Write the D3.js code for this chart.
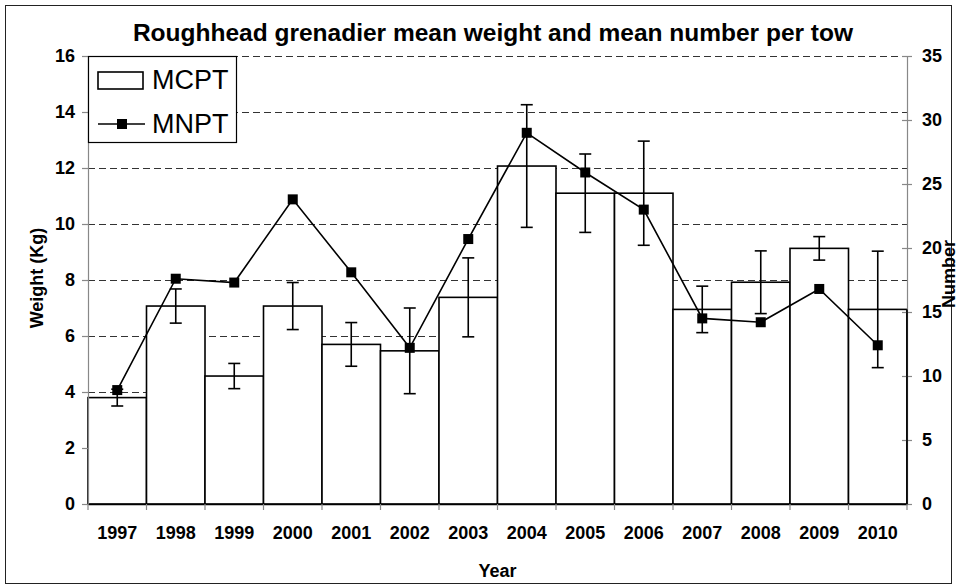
<!DOCTYPE html>
<html>
<head>
<meta charset="utf-8">
<script src="https://cdn.jsdelivr.net/npm/d3@7"></script>
<style>
  body { margin: 0; background: #fff; }
  text { font-family: "Liberation Sans", Arial, sans-serif; }
</style>
</head>
<body>
<div id="chart"></div>
<script>
// chart data
var years = ['1997','1998','1999','2000','2001','2002','2003','2004','2005','2006','2007','2008','2009','2010'];
var weight = [3.80, 7.07, 4.57, 7.07, 5.70, 5.47, 7.38, 12.07, 11.10, 11.10, 6.95, 7.92, 9.13, 6.95];
var weightErr = [0.30, 0.61, 0.45, 0.84, 0.78, 1.53, 1.41, 2.19, 1.40, 1.86, 0.83, 1.12, 0.42, 2.08];
var number = [8.9, 17.6, 17.3, 23.8, 18.1, 12.2, 20.7, 29.0, 25.9, 23.0, 14.5, 14.2, 16.8, 12.4];
var weightTicks = [0, 2, 4, 6, 8, 10, 12, 14, 16];
var numberTicks = [0, 5, 10, 15, 20, 25, 30, 35];
var gridTicks = [4, 6, 8, 10, 12, 14, 16];

var W = 958, H = 588;
var plot = { left: 88, right: 907, top: 56, bottom: 504 };

var svg = d3.select('#chart').append('svg')
    .attr('width', W)
    .attr('height', H);

// outer frame
svg.append('rect')
    .attr('x', 5.5).attr('y', 5.5)
    .attr('width', 946).attr('height', 578)
    .style('fill', 'none')
    .style('stroke', '#222')
    .style('stroke-width', 1);

var x = d3.scaleBand()
    .domain(years)
    .range([plot.left, plot.right])
    .padding(0);

var yW = d3.scaleLinear()
    .domain([0, 16])
    .range([plot.bottom, plot.top]);

var yN = d3.scaleLinear()
    .domain([0, 35])
    .range([plot.bottom, plot.top]);

// dashed gridlines
svg.append('g').selectAll('line').data(gridTicks)
  .enter().append('line')
    .attr('x1', plot.left).attr('x2', plot.right)
    .attr('y1', function(d) { return yW(d) + 0.5; })
    .attr('y2', function(d) { return yW(d) + 0.5; })
    .style('stroke', '#333')
    .style('stroke-width', 1)
    .style('stroke-dasharray', '7,4');

// bars
svg.append('g').selectAll('rect').data(weight)
  .enter().append('rect')
    .attr('x', function(d, i) { return x(years[i]); })
    .attr('y', function(d) { return yW(d); })
    .attr('width', x.bandwidth())
    .attr('height', function(d) { return yW(0) - yW(d); })
    .style('fill', '#fff')
    .style('stroke', '#000')
    .style('stroke-width', 1.6);

// error bars on weight
var errG = svg.append('g');
weight.forEach(function(d, i) {
  var cx = x(years[i]) + x.bandwidth() / 2;
  var hi = yW(d + weightErr[i]), lo = yW(d - weightErr[i]);
  errG.append('line')
      .attr('x1', cx).attr('x2', cx).attr('y1', hi).attr('y2', lo);
  errG.append('line')
      .attr('x1', cx - 6).attr('x2', cx + 6).attr('y1', hi).attr('y2', hi);
  errG.append('line')
      .attr('x1', cx - 6).attr('x2', cx + 6).attr('y1', lo).attr('y2', lo);
});
errG.selectAll('line')
    .style('stroke', '#000')
    .style('stroke-width', 1.6);

// number line
var line = d3.line()
    .x(function(d, i) { return x(years[i]) + x.bandwidth() / 2; })
    .y(function(d) { return yN(d); });

svg.append('path')
    .datum(number)
    .attr('d', line)
    .style('fill', 'none')
    .style('stroke', '#000')
    .style('stroke-width', 1.6);

svg.append('g').selectAll('rect').data(number)
  .enter().append('rect')
    .attr('x', function(d, i) { return x(years[i]) + x.bandwidth() / 2 - 5; })
    .attr('y', function(d) { return yN(d) - 5; })
    .attr('width', 10)
    .attr('height', 10)
    .style('fill', '#000');

// left axis
var leftAxis = svg.append('g')
    .attr('transform', 'translate(' + plot.left + ',0)')
    .call(d3.axisLeft(yW).tickValues(weightTicks).tickSize(6).tickPadding(7).tickSizeOuter(0));

// right axis
var rightAxis = svg.append('g')
    .attr('transform', 'translate(' + plot.right + ',0)')
    .call(d3.axisRight(yN).tickValues(numberTicks).tickSize(5).tickPadding(10).tickSizeOuter(0));
rightAxis.selectAll('.tick line').attr('x1', -5);

// bottom axis
var bottomAxis = svg.append('g')
    .attr('transform', 'translate(0,' + plot.bottom + ')')
    .call(d3.axisBottom(x).tickSize(0).tickPadding(22).tickSizeOuter(0));

var bounds = years.map(function(d) { return x(d); }).concat([plot.right]);
bottomAxis.selectAll('.bound').data(bounds)
  .enter().append('line')
    .attr('class', 'bound')
    .attr('x1', function(d) { return d; })
    .attr('x2', function(d) { return d; })
    .attr('y1', 0).attr('y2', 6);

[leftAxis, rightAxis, bottomAxis].forEach(function(a) {
  a.selectAll('path, line').style('stroke', '#888').style('stroke-width', 1.2);
  a.selectAll('text')
      .style('font-size', '18px')
      .style('font-weight', 'bold')
      .style('fill', '#000');
});
bottomAxis.select('path').style('stroke', '#000').style('stroke-width', 1.6);

// bars redraw their edges over the grey axis where they touch it
svg.append('line')
    .attr('x1', plot.right).attr('x2', plot.right)
    .attr('y1', yW(weight[weight.length - 1])).attr('y2', plot.bottom)
    .style('stroke', '#000')
    .style('stroke-width', 1.6);

// titles
svg.append('text')
    .attr('x', 493).attr('y', 41)
    .attr('text-anchor', 'middle')
    .style('font-size', '24.5px')
    .style('font-weight', 'bold')
    .text('Roughhead grenadier mean weight and mean number per tow');

svg.append('text')
    .attr('x', (plot.left + plot.right) / 2).attr('y', 577)
    .attr('text-anchor', 'middle')
    .style('font-size', '18px')
    .style('font-weight', 'bold')
    .text('Year');

svg.append('text')
    .attr('transform', 'translate(43,278) rotate(-90)')
    .attr('text-anchor', 'middle')
    .style('font-size', '18px')
    .style('font-weight', 'bold')
    .text('Weight (Kg)');

svg.append('text')
    .attr('transform', 'translate(955,274) rotate(-90)')
    .attr('text-anchor', 'middle')
    .style('font-size', '18px')
    .style('font-weight', 'bold')
    .text('Number');

// legend
var legend = svg.append('g');
legend.append('rect')
    .attr('x', 88.5).attr('y', 56.5)
    .attr('width', 148).attr('height', 86)
    .style('fill', '#fff')
    .style('stroke', '#000')
    .style('stroke-width', 1.2);
legend.append('rect')
    .attr('x', 98).attr('y', 72)
    .attr('width', 45).attr('height', 17)
    .style('fill', '#fff')
    .style('stroke', '#000')
    .style('stroke-width', 1.6);
legend.append('line')
    .attr('x1', 98).attr('x2', 145)
    .attr('y1', 124).attr('y2', 124)
    .style('stroke', '#000')
    .style('stroke-width', 1.6);
legend.append('rect')
    .attr('x', 117).attr('y', 119)
    .attr('width', 10).attr('height', 10)
    .style('fill', '#000');
legend.append('text')
    .attr('x', 152).attr('y', 89)
    .style('font-size', '27px')
    .text('MCPT');
legend.append('text')
    .attr('x', 152).attr('y', 133)
    .style('font-size', '27px')
    .text('MNPT');
</script>
</body>
</html>
